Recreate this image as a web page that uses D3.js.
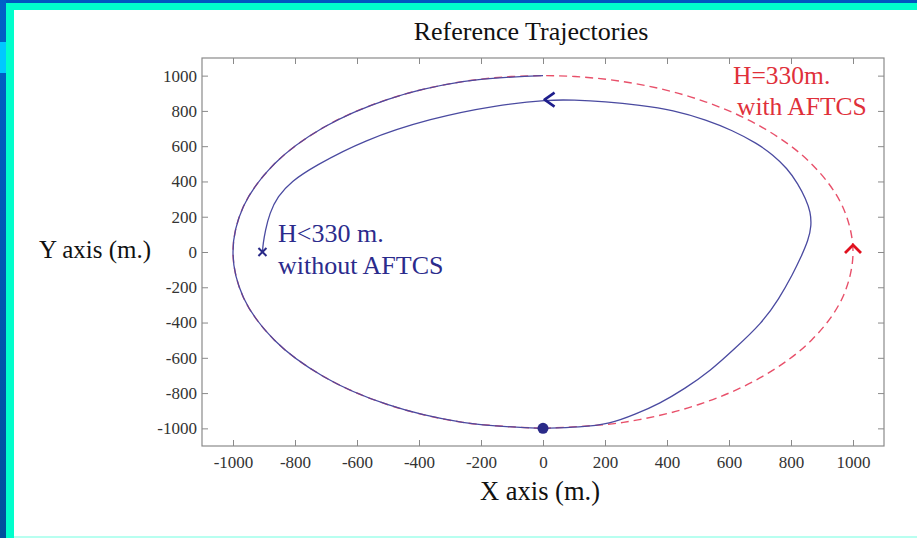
<!DOCTYPE html>
<html><head><meta charset="utf-8">
<script src="https://cdn.jsdelivr.net/npm/d3@7"></script>
<style>html,body{margin:0;padding:0;background:#fff;overflow:hidden}</style>
</head><body>
<svg id="c" width="917" height="538"></svg>
<script>
// ---- data (metres) ----
const xTicks = [-1000,-800,-600,-400,-200,0,200,400,600,800,1000];
const yTicks = [-1000,-800,-600,-400,-200,0,200,400,600,800,1000];
// Reference trajectory with AFTCS (red dashed)
const refX = [0,259,500,707,866,966,1000,966,866,707,500,259,0,-259,-500,-707,-866,-966,-1000,-966,-866,-707,-500,-259,0];
const refY = [-1000,-966,-866,-707,-500,-259,0,259,500,707,866,966,1000,966,866,707,500,259,0,-259,-500,-707,-866,-966,-1000];
// Trajectory without AFTCS (blue solid): outer arc that follows the reference circle ...
const arcX = [0,-259,-500,-707,-866,-966,-1000,-966,-866,-707,-500,-259,0];
const arcY = [1000,966,866,707,500,259,0,-259,-500,-707,-866,-966,-1000];
// ... then the deviating part after the failure point
const trkX = [0,120,216,297,377,458,539,619,706,761,807,832,856,866,863,848,823,787,742,691,610,529,419,313,200,97,20,-148,-363,-578,-740,-812,-856,-882,-896,-903,-905];
const trkY = [-1000,-994,-975,-921,-859,-774,-675,-547,-403,-267,-121,-30,68,147,227,300,386,476,550,616,690,748,805,833,853,862,864,833,758,635,484,400,315,220,120,45,0];
const failPoint = [0,-1000];
const endPoint = [-905,0];
const blueArrow = [5,864];
const redArrow = [1000,40];

const svg = d3.select('#c');
const W = 917, H = 538;

// ---- background frame ----
svg.append('rect').attr('x',0).attr('y',0).attr('width',W).attr('height',H).attr('fill','#00ffcc');
svg.append('rect').attr('x',0).attr('y',0).attr('width',W).attr('height',3).attr('fill','#0058bf');
const grad = svg.append('defs').append('linearGradient').attr('id','lg').attr('x1',0).attr('y1',0).attr('x2',0).attr('y2',1);
grad.append('stop').attr('offset','0%').attr('stop-color','#0060c8');
grad.append('stop').attr('offset','100%').attr('stop-color','#00509c');
svg.append('rect').attr('x',0).attr('y',0).attr('width',6).attr('height',H).attr('fill','url(#lg)');
svg.append('rect').attr('x',0).attr('y',42).attr('width',6).attr('height',31).attr('fill','#00c8ff');
svg.append('rect').attr('x',14).attr('y',10).attr('width',W-14).attr('height',526).attr('fill','#ffffff');
svg.append('rect').attr('x',14).attr('y',536).attr('width',W-14).attr('height',2).attr('fill','#b8fff0');

// ---- scales ----
const x = d3.scaleLinear().domain([-1100,1100]).range([202,884]);
const y = d3.scaleLinear().domain([-1100,1100]).range([446,58]);
const font = '"Liberation Serif","Times New Roman",serif';

// ---- axes ----
const tk = 6;
const fmt = d => String(d);
function styleAxis(g, labels){
  g.select('.domain').remove();
  g.selectAll('.tick line').attr('stroke','#8a8a8a').attr('stroke-width',1);
  g.selectAll('.tick text').attr('font-family',font).attr('font-size',17).attr('fill','#333');
  if(!labels) g.selectAll('.tick text').remove();
}
const gx = svg.append('g').attr('transform',`translate(0,${y.range()[0]})`)
  .call(d3.axisBottom(x).tickValues(xTicks).tickFormat(fmt).tickSizeInner(-tk).tickSizeOuter(0).tickPadding(10));
styleAxis(gx,true);
const gxt = svg.append('g').attr('transform',`translate(0,${y.range()[1]})`)
  .call(d3.axisTop(x).tickValues(xTicks).tickSizeInner(-tk).tickSizeOuter(0));
styleAxis(gxt,false);
const gy = svg.append('g').attr('transform',`translate(${x.range()[0]},0)`)
  .call(d3.axisLeft(y).tickValues(yTicks).tickFormat(fmt).tickSizeInner(-tk).tickSizeOuter(0).tickPadding(5));
styleAxis(gy,true);
const gyr = svg.append('g').attr('transform',`translate(${x.range()[1]},0)`)
  .call(d3.axisRight(y).tickValues(yTicks).tickSizeInner(-tk).tickSizeOuter(0));
styleAxis(gyr,false);
svg.append('rect').attr('x',x.range()[0]).attr('y',y.range()[1])
  .attr('width',x.range()[1]-x.range()[0]).attr('height',y.range()[0]-y.range()[1])
  .attr('fill','none').attr('stroke','#8a8a8a').attr('stroke-width',1.2);

// ---- lines ----
const lineArc = d3.line().x(d=>x(d[0])).y(d=>y(d[1])).curve(d3.curveCatmullRom.alpha(0.5));
const lineTrk = d3.line().x(d=>x(d[0])).y(d=>y(d[1])).curve(d3.curveBasis);
svg.append('path').datum(refX.map((v,i)=>[v,refY[i]])).attr('d',lineArc)
  .attr('fill','none').attr('stroke','#e8506a').attr('stroke-width',1.4).attr('stroke-dasharray','8,5');
svg.append('path').datum(arcX.map((v,i)=>[v,arcY[i]])).attr('d',lineArc)
  .attr('fill','none').attr('stroke','#4a4aa0').attr('stroke-width',1.3);
svg.append('path').datum(trkX.map((v,i)=>[v,trkY[i]])).attr('d',lineTrk)
  .attr('fill','none').attr('stroke','#4a4aa0').attr('stroke-width',1.3);

// ---- markers ----
svg.append('circle').attr('cx',x(failPoint[0])).attr('cy',y(failPoint[1])).attr('r',5.5).attr('fill','#2a2a88');
const ex = x(endPoint[0]), ey = y(endPoint[1]);
svg.append('path').attr('d',`M${ex-4},${ey-4}L${ex+4},${ey+4}M${ex+4},${ey-4}L${ex-4},${ey+4}`)
  .attr('stroke','#2a2a88').attr('stroke-width',2).attr('fill','none');
const bx = x(blueArrow[0]), by = y(blueArrow[1]);
svg.append('path').attr('d',`M${bx+10},${by-7}L${bx},${by}L${bx+10},${by+7}`)
  .attr('stroke','#1e1e8c').attr('stroke-width',2.6).attr('fill','none').attr('stroke-linejoin','round');
const rx = x(redArrow[0]), ry = y(redArrow[1]);
svg.append('path').attr('d',`M${rx-8},${ry+8}L${rx},${ry}L${rx+8},${ry+8}`)
  .attr('stroke','#e0101e').attr('stroke-width',2.8).attr('fill','none').attr('stroke-linejoin','miter');

// ---- texts ----
svg.append('text').attr('x',531).attr('y',40).attr('text-anchor','middle')
  .attr('font-family',font).attr('font-size',26).attr('fill','#111').text('Reference Trajectories');
svg.append('text').attr('x',95).attr('y',258).attr('text-anchor','middle')
  .attr('font-family',font).attr('font-size',25).attr('fill','#111').text('Y axis (m.)');
svg.append('text').attr('x',540).attr('y',500).attr('text-anchor','middle')
  .attr('font-family',font).attr('font-size',26.5).attr('fill','#111').text('X axis (m.)');
svg.append('text').attr('x',733).attr('y',84).attr('font-family',font).attr('font-size',25.5).attr('fill','#e0303a').text('H=330m.');
svg.append('text').attr('x',737).attr('y',115).attr('font-family',font).attr('font-size',25.5).attr('fill','#e0303a').text('with AFTCS');
svg.append('text').attr('x',278).attr('y',242).attr('font-family',font).attr('font-size',26).attr('fill','#2b2b8c').text('H<330 m.');
svg.append('text').attr('x',278).attr('y',274).attr('font-family',font).attr('font-size',26).attr('fill','#2b2b8c').text('without AFTCS');
</script>
</body></html>
